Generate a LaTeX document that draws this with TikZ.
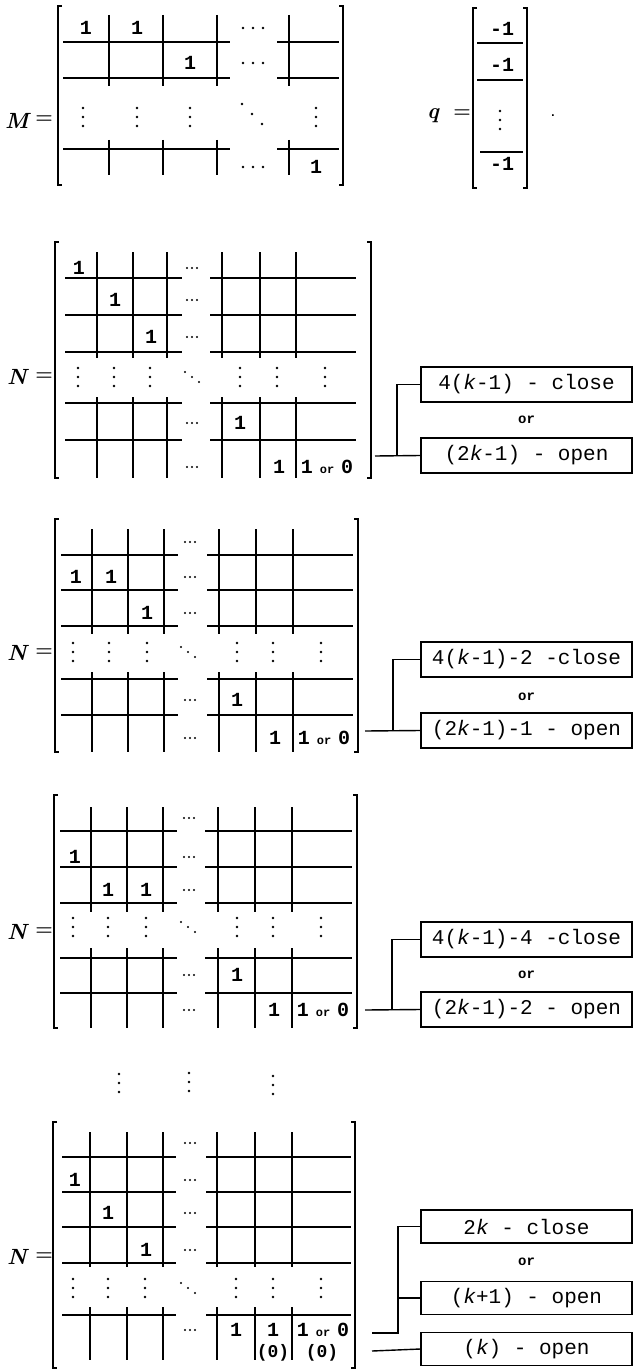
\documentclass[tikz,border=0pt]{standalone}
\usepackage{fontspec}
\newfontfamily\monof{Liberation Mono}
\newcommand\entf{\monof\bfseries\fontsize{20}{20}\selectfont}
\newcommand\zerof{\monof\bfseries\fontsize{18}{18}\selectfont}
\newcommand\boxf{\monof\fontsize{21}{21}\selectfont}
\newcommand\orf{\monof\bfseries\fontsize{12}{12}\selectfont}
\newcommand\orbf{\monof\bfseries\fontsize{14}{14}\selectfont}
\newcommand\labf{\fontsize{22}{22}\selectfont\bfseries\itshape}
\newcommand\eqf{\fontsize{20}{20}\selectfont\bfseries}
\newcommand\oneorzero{1\hspace{7pt}{\orf or}\hspace{7pt}0}
\begin{document}
\begin{tikzpicture}[x=1pt,y=-1pt,
  ml/.style={line width=1.5pt},
  br/.style={line width=1.7pt},
  ent/.style={font=\entf,inner sep=0pt,anchor=center},
  zer/.style={font=\zerof,inner sep=0pt,anchor=center},
  bx/.style={draw,line width=1.3pt,minimum width=211pt,minimum height=35pt,inner sep=0pt,font=\boxf},
  orl/.style={font=\orbf,inner sep=0pt},
  lab/.style={font=\labf,inner sep=0pt},
  eqs/.style={font=\eqf,inner sep=0pt},
  cn/.style={line width=1.4pt},
  vd/.pic={\fill (0,-9) circle (1.3pt) (0,0) circle (1.3pt) (0,9) circle (1.3pt);},
  hdm/.pic={\fill (-10,0) circle (1.3pt) (0,0) circle (1.3pt) (10,0) circle (1.3pt);},
  hdn/.pic={\fill (-5,0) circle (1.1pt) (0,0) circle (1.1pt) (5,0) circle (1.1pt);},
  ddm/.pic={\fill (-10,-10) circle (1.3pt) (0,0) circle (1.3pt) (10,10) circle (1.3pt);},
  ddn/.pic={\fill (-7,-5) circle (1.1pt) (0,0) circle (1.1pt) (7,5) circle (1.1pt);}
]
\useasboundingbox (0,0) rectangle (635,1370);
\fill[white] (0,0) rectangle (635,1370);

% ---------------- M ----------------
\node[lab] (Mlab) at (17,121) {M};
\node[eqs] (Meq) at (44,120) {=};
\draw[br] (62,6) -- (58,6) -- (58,185) -- (62,185);
\draw[br] (339,6) -- (343,6) -- (343,185) -- (339,185);
\foreach \y in {42,78,149} {\draw[ml] (63,\y) -- (230,\y); \draw[ml] (277,\y) -- (339,\y);}
\foreach \x in {109,163,217,289} {\draw[ml] (\x,15) -- (\x,86); \draw[ml] (\x,140) -- (\x,175);}
\node[ent] (m1) at (86,28) {1};
\node[ent] (m2) at (137,28) {1};
\node[ent] (m3) at (190,63) {1};
\node[ent] (m4) at (316,167) {1};
\foreach \y in {28,63,167} \pic at (253,\y) {hdm};
\foreach \x in {83,137,190,316} \pic at (\x,117) {vd};
\pic at (252,114) {ddm};

% ---------------- q ----------------
\node[lab] (qlab) at (433,116) {q};
\node[eqs] (qeq) at (462,114) {=};
\draw[br] (477,8) -- (473,8) -- (473,188) -- (477,188);
\draw[br] (523,8) -- (527,8) -- (527,188) -- (523,188);
\draw[ml] (477,43) -- (523,43);
\draw[ml] (477,80) -- (523,80);
\draw[ml] (480,152) -- (523,152);
\node[ent] (q1) at (502,29) {-1};
\node[ent] (q2) at (502,65) {-1};
\node[ent] (q3) at (502,164) {-1};
\pic at (500,120) {vd};
\node[font=\orf,inner sep=0pt] (qdot) at (553,116) {.};

% ---------------- N1 ----------------
\node[lab] (n1lab) at (17,377) {N};
\node[eqs] (n1eq) at (44,377) {=};
\draw[br] (59,242) -- (55,242) -- (55,478) -- (59,478);
\draw[br] (367,242) -- (371,242) -- (371,478) -- (367,478);
\foreach \y in {278,315,352,403,440} {\draw[ml] (65,\y) -- (182,\y); \draw[ml] (210,\y) -- (356,\y);}
\foreach \x in {97,133,167,222,260,296} {\draw[ml] (\x,252) -- (\x,358); \draw[ml] (\x,397) -- (\x,478);}
\node[ent] (a1) at (79,268) {1};
\node[ent] (a2) at (115,300) {1};
\node[ent] (a3) at (151,337) {1};
\node[ent] (a4) at (240,423) {1};
\node[ent] (a5) at (279,467) {1};
\node[ent] (a6) at (327,467) {\oneorzero};
\foreach \y in {268,300,337,423,467} \pic at (192,\y) {hdn};
\foreach \x in {78,114,150,240,277,325} \pic at (\x,377) {vd};
\pic at (192,377) {ddn};
\node[bx] (b11) at (526.5,384.5) {4(\textit{k}-1) - close};
\node[orl] (o1) at (526.5,420) {or};
\node[bx] (b12) at (526.5,455.5) {(2\textit{k}-1) - open};
\coordinate (e1) at (375,456);
\coordinate (j1) at (397,456);
\draw[cn] (e1) -- (b12.west);
\draw[cn] (j1) |- (b11.west);

% ---------------- N2 ----------------
\node[lab] (n2lab) at (17,653) {N};
\node[eqs] (n2eq) at (44,653) {=};
\draw[br] (59,519) -- (55,519) -- (55,752) -- (59,752);
\draw[br] (354,519) -- (358,519) -- (358,752) -- (354,752);
\foreach \y in {555,590,626,679,715} {\draw[ml] (61,\y) -- (178,\y); \draw[ml] (207,\y) -- (353,\y);}
\foreach \x in {92,128,164,219,256,293} {\draw[ml] (\x,529) -- (\x,634); \draw[ml] (\x,672) -- (\x,752);}
\node[ent] (c1) at (76,577) {1};
\node[ent] (c2) at (111,577) {1};
\node[ent] (c3) at (147,613) {1};
\node[ent] (c4) at (237,700) {1};
\node[ent] (c5) at (275,738) {1};
\node[ent] (c6) at (324,738) {\oneorzero};
\foreach \y in {542,577,613,700,738} \pic at (190,\y) {hdn};
\foreach \x in {73,109,147,237,273,321} \pic at (\x,652) {vd};
\pic at (188,652) {ddn};
\node[bx] (b21) at (526.5,659.5) {4(\textit{k}-1)-2 -close};
\node[orl] (o2) at (526.5,697) {or};
\node[bx] (b22) at (526.5,730.5) {(2\textit{k}-1)-1 - open};
\coordinate (e2) at (365,731);
\coordinate (j2) at (393,731);
\draw[cn] (e2) -- (b22.west);
\draw[cn] (j2) |- (b21.west);

% ---------------- N3 ----------------
\node[lab] (n3lab) at (17,932) {N};
\node[eqs] (n3eq) at (44,932) {=};
\draw[br] (58,795) -- (54,795) -- (54,1028) -- (58,1028);
\draw[br] (353,795) -- (357,795) -- (357,1028) -- (353,1028);
\foreach \y in {831,867,903,958,993} {\draw[ml] (60,\y) -- (177,\y); \draw[ml] (205,\y) -- (352,\y);}
\foreach \x in {91,127,163,218,255,292} {\draw[ml] (\x,807) -- (\x,912); \draw[ml] (\x,948) -- (\x,1028);}
\node[ent] (d1) at (75,857) {1};
\node[ent] (d2) at (108,890) {1};
\node[ent] (d3) at (146,890) {1};
\node[ent] (d4) at (237,975) {1};
\node[ent] (d5) at (274,1010) {1};
\node[ent] (d6) at (323,1010) {\oneorzero};
\foreach \y in {818,857,890,975,1010} \pic at (189,\y) {hdn};
\foreach \x in {73,108,146,237,273,321} \pic at (\x,927) {vd};
\pic at (188,927) {ddn};
\node[bx] (b31) at (526.5,939.5) {4(\textit{k}-1)-4 -close};
\node[orl] (o3) at (526.5,975) {or};
\node[bx] (b32) at (526.5,1009.5) {(2\textit{k}-1)-2 - open};
\coordinate (e3) at (365,1010);
\coordinate (j3) at (392,1010);
\draw[cn] (e3) -- (b32.west);
\draw[cn] (j3) |- (b31.west);

% ---------------- dots between ----------------
\pic at (119,1083) {vd};
\pic at (189,1082) {vd};
\pic at (273,1085) {vd};

% ---------------- N4 ----------------
\node[lab] (n4lab) at (17,1257) {N};
\node[eqs] (n4eq) at (44,1257) {=};
\draw[br] (57,1122) -- (53,1122) -- (53,1368) -- (57,1368);
\draw[br] (351,1122) -- (355,1122) -- (355,1368) -- (351,1368);
\foreach \y in {1157,1192,1227,1263,1315} {\draw[ml] (62,\y) -- (176,\y); \draw[ml] (206,\y) -- (351,\y);}
\foreach \x in {90,127,163,217,255,292} {\draw[ml] (\x,1132) -- (\x,1267); \draw[ml] (\x,1307) -- (\x,1360);}
\node[ent] (f1) at (75,1180) {1};
\node[ent] (f2) at (108,1213) {1};
\node[ent] (f3) at (146,1250) {1};
\node[ent] (f4) at (236,1330) {1};
\node[ent] (f5) at (273,1330) {1};
\node[zer] (f6) at (273,1353) {(0)};
\node[ent] (f7) at (323,1330) {\oneorzero};
\node[zer] (f8) at (322,1353) {(0)};
\foreach \y in {1143,1180,1213,1250,1330} \pic at (190,\y) {hdn};
\foreach \x in {73,108,145,236,273,321} \pic at (\x,1288) {vd};
\pic at (188,1288) {ddn};
\node[bx,minimum height=33pt] (b41) at (526.5,1226.5) {2\textit{k} - close};
\node[orl] (o4) at (526.5,1262) {or};
\node[bx,minimum height=33pt] (b42) at (526.5,1298) {(\textit{k}+1) - open};
\node[bx,minimum height=33pt] (b43) at (526.5,1349) {(\textit{k}) - open};
\coordinate (e4) at (372,1333);
\coordinate (j4) at (398,1333);
\coordinate (e5) at (372,1351);
\draw[cn] (e4) -- (j4) |- (b41.west);
\draw[cn] (j4 |- b42.west) -- (b42.west);
\draw[cn] (e5) -- (b43.west);
\end{tikzpicture}
\end{document}
